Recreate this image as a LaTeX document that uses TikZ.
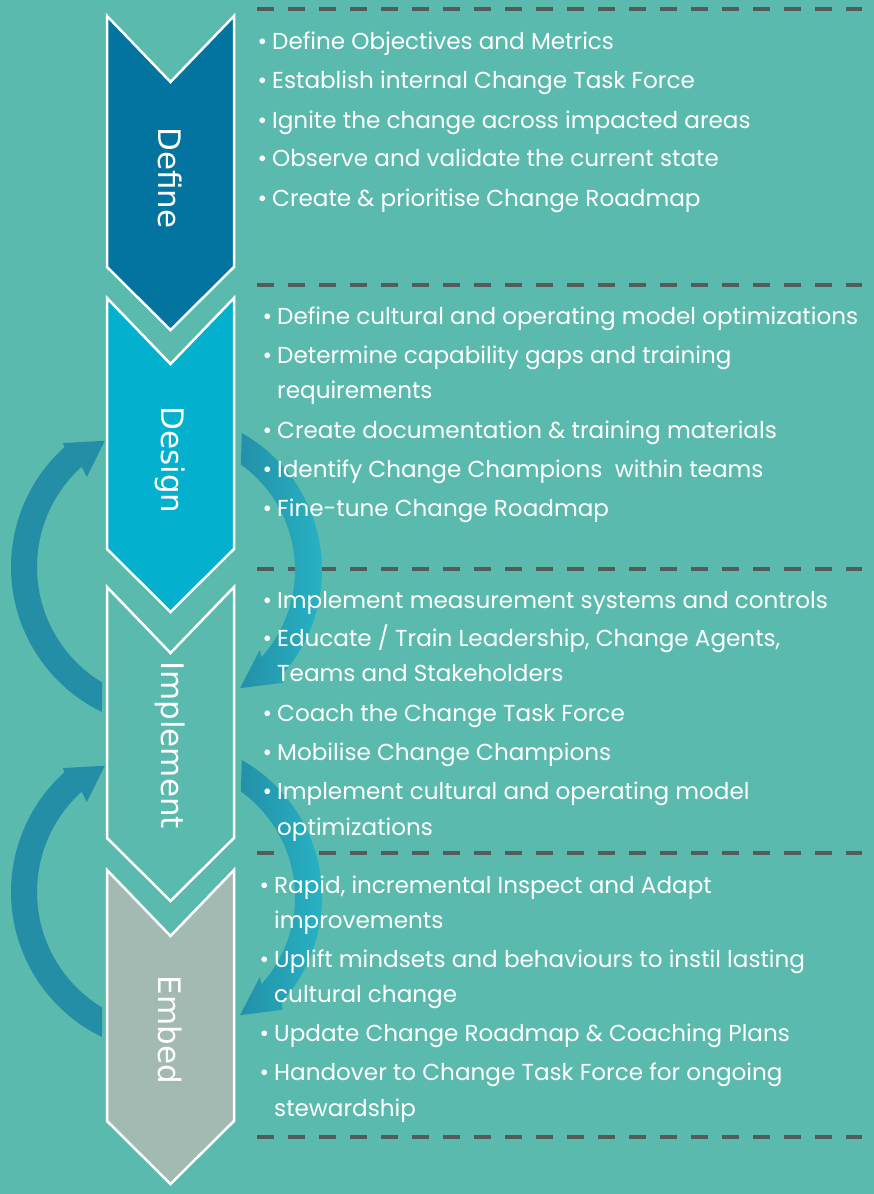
\documentclass[tikz,border=0pt]{standalone}
\usepackage{fontspec}
\setmainfont{Poppins}
\newfontfamily\labelfont{DejaVu Sans}
\definecolor{bg}{HTML}{5BBAAE}
\definecolor{cdefine}{HTML}{03739F}
\definecolor{cdesign}{HTML}{03B0CE}
\definecolor{cembed}{HTML}{A3BAB3}
\definecolor{cdash}{HTML}{555B5A}
\definecolor{arrowL}{HTML}{248EA7}
\definecolor{arrowD}{HTML}{2390A8}
\definecolor{arrowLt}{HTML}{28B2C4}
\tikzset{
  chev/.style={draw=white, line width=2.5pt, line join=miter},
  sep/.style={draw=cdash, line width=4pt, dash pattern=on 16.7pt off 14.3pt},
  txt/.style={anchor=base west, inner sep=0pt, text=white, font=\fontsize{23.1}{28}\selectfont},
  lbl/.style={rotate=-90, inner sep=0pt, text=white, font=\labelfont\fontsize{31}{34}\selectfont},
}
\newcommand{\bl}{\llap{\textbullet\hspace{5pt}}}
\begin{document}
\begin{tikzpicture}[x=1pt,y=-1pt]
\fill[bg] (0,0) rectangle (874,1194);
\useasboundingbox (0,0) rectangle (874,1194);

% separators
\foreach \yy in {9,285,569,853,1137} \draw[sep] (257,\yy) -- (862,\yy);

% left cycle arrows
\foreach \cy in {567,892}{
\begin{scope}[shift={(172,\cy)}]
\fill[arrowL] (115.8:161) arc[start angle=115.8, end angle=228, radius=161] -- (228.7:165) -- (242:143) -- (226.6:124) -- (228:135) arc[start angle=228, end angle=121.1, radius=135] -- cycle;
\end{scope}}
% right cycle arrows
\foreach \cy in {570,897}{
\begin{scope}[shift={(165,\cy)}]
\shade[left color=arrowD, right color=arrowLt] (-60.7:157) arc[start angle=-60.7, end angle=42, radius=157] -- (43.8:163) -- (57.6:140) -- (40.1:124) -- (42:130) arc[start angle=42, end angle=-54.3, radius=130] -- cycle;
\end{scope}}

% chevrons
\foreach \yt/\col in {16/cdefine, 298/cdesign, 587/bg, 870/cembed}{
\fill[\col] (107,\yt) -- (170.5,\yt+66) -- (234,\yt) -- (234,\yt+251) -- (170.5,\yt+314) -- (107,\yt+251) -- cycle;
\draw[chev] (107,\yt) -- (170.5,\yt+66) -- (234,\yt) -- (234,\yt+251) -- (170.5,\yt+314) -- (107,\yt+251) -- cycle;
}
\node[lbl] (ldefine) at (170.5,178) {Define};
\node[lbl] (ldesign) at (170.5,460) {Design};
\node[lbl] (limplement) at (170.5,745) {Implement};
\node[lbl] (lembed) at (170.5,1030) {Embed};

% Define texts
\node[txt] (d1) at (272,49) {\bl Define Objectives and Metrics};
\node[txt] (d2) at (272,88) {\bl Establish internal Change Task Force};
\node[txt] (d3) at (272,128) {\bl Ignite the change across impacted areas};
\node[txt] (d4) at (272,166) {\bl Observe and validate the current state};
\node[txt] (d5) at (272,206) {\bl Create \& prioritise Change Roadmap};
% Design texts
\node[txt] (s1) at (277,324) {\bl Define cultural and operating model optimizations};
\node[txt] (s2) at (277,363) {\bl Determine capability gaps and training};
\node[txt] (s2b) at (277,398) {requirements};
\node[txt] (s3) at (277,438) {\bl Create documentation \& training materials};
\node[txt] (s4) at (277,477) {\bl Identify Change Champions\ \ within teams};
\node[txt] (s5) at (277,516) {\bl Fine-tune Change Roadmap};
% Implement texts
\node[txt] (i1) at (277,608) {\bl Implement measurement systems and controls};
\node[txt] (i2) at (277,646) {\bl Educate / Train Leadership, Change Agents,};
\node[txt] (i2b) at (277,681) {Teams and Stakeholders};
\node[txt] (i3) at (277,721) {\bl Coach the Change Task Force};
\node[txt] (i4) at (277,760) {\bl Mobilise Change Champions};
\node[txt] (i5) at (277,799) {\bl Implement cultural and operating model};
\node[txt] (i5b) at (277,835) {optimizations};
% Embed texts
\node[txt] (e1) at (274,893) {\bl Rapid, incremental Inspect and Adapt};
\node[txt] (e1b) at (274,928) {improvements};
\node[txt] (e2) at (274,967) {\bl Uplift mindsets and behaviours to instil lasting};
\node[txt] (e2b) at (274,1002) {cultural change};
\node[txt] (e3) at (274,1041) {\bl Update Change Roadmap \& Coaching Plans};
\node[txt] (e4) at (274,1080) {\bl Handover to Change Task Force for ongoing};
\node[txt] (e4b) at (274,1116) {stewardship};
\end{tikzpicture}
\end{document}
